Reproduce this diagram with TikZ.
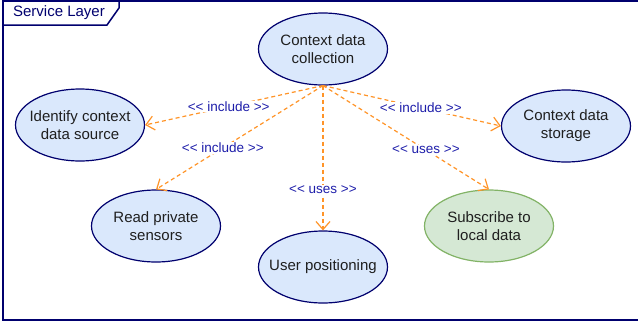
\documentclass[tikz,border=0pt]{standalone}
\usepackage{fontspec}
\setmainfont{Liberation Sans}[Ligatures=TeXOff]
\usepackage{tikz}
\usetikzlibrary{shapes.geometric}
\usetikzlibrary{arrows.meta,positioning}

\definecolor{navy}{RGB}{0,0,110}
\definecolor{fillblue}{RGB}{218,232,252}
\definecolor{fillgreen}{RGB}{213,232,212}
\definecolor{linegreen}{RGB}{130,179,102}
\definecolor{edgeorange}{RGB}{255,148,40}
\definecolor{labelblue}{RGB}{30,30,170}

\tikzset{
  usecase/.style={ellipse, draw=navy, fill=fillblue, line width=1.2pt,
    minimum width=129pt, minimum height=72pt, inner xsep=-14pt, inner ysep=-6pt,
    align=center, text=black!88, font=\fontsize{15}{18}\selectfont},
  greencase/.style={usecase, draw=linegreen, fill=fillgreen},
  framel/.style={draw=navy, line width=1.5pt},
  dep/.style={draw=edgeorange, line width=1.2pt, dash pattern=on 4pt off 3pt,
    -{Straight Barb[length=8pt,width=14pt]}},
  stereo/.style={fill=white, inner sep=1pt, text=labelblue,
    font=\fontsize{13.5}{16}\selectfont}
}

\begin{document}
\begin{tikzpicture}[x=1pt,y=-1pt]
  \useasboundingbox (0,0) rectangle (638,322);

  %frame
  \draw[framel] (640,1) -- (3,1) -- (3,320) -- (640,320);
  \draw[framel] (3,25) -- (107,25) -- (119,8) -- (119,1);
  \node[text=navy, font=\fontsize{15}{18}\selectfont] (tab) at (59,13) {Service Layer};

  %use cases
  \foreach \x/\y/\name/\txt in {323/49/coll/{Context data\\collection},
        80/125/ident/{Identify context\\data source},
        566/126/stor/{Context data\\storage},
        156/226/read/{Read private\\sensors},
        323/267/user/{User positioning}}{
    \node[usecase] (\name) at (\x,\y) {\txt};
  }
  \node[greencase] (sub) at (489,226) {Subscribe to\\local data};

  %dependencies
  \foreach \dest/\p/\kind in {ident.east/0.53/include, read.north/0.6/include,
        user.north/0.72/uses, stor.west/0.55/include, sub.north/0.62/uses}{
    \draw[dep] (coll.south) -- (\dest) node[stereo, pos=\p] {<< \kind\ >>};
  }

\end{tikzpicture}
\end{document}
